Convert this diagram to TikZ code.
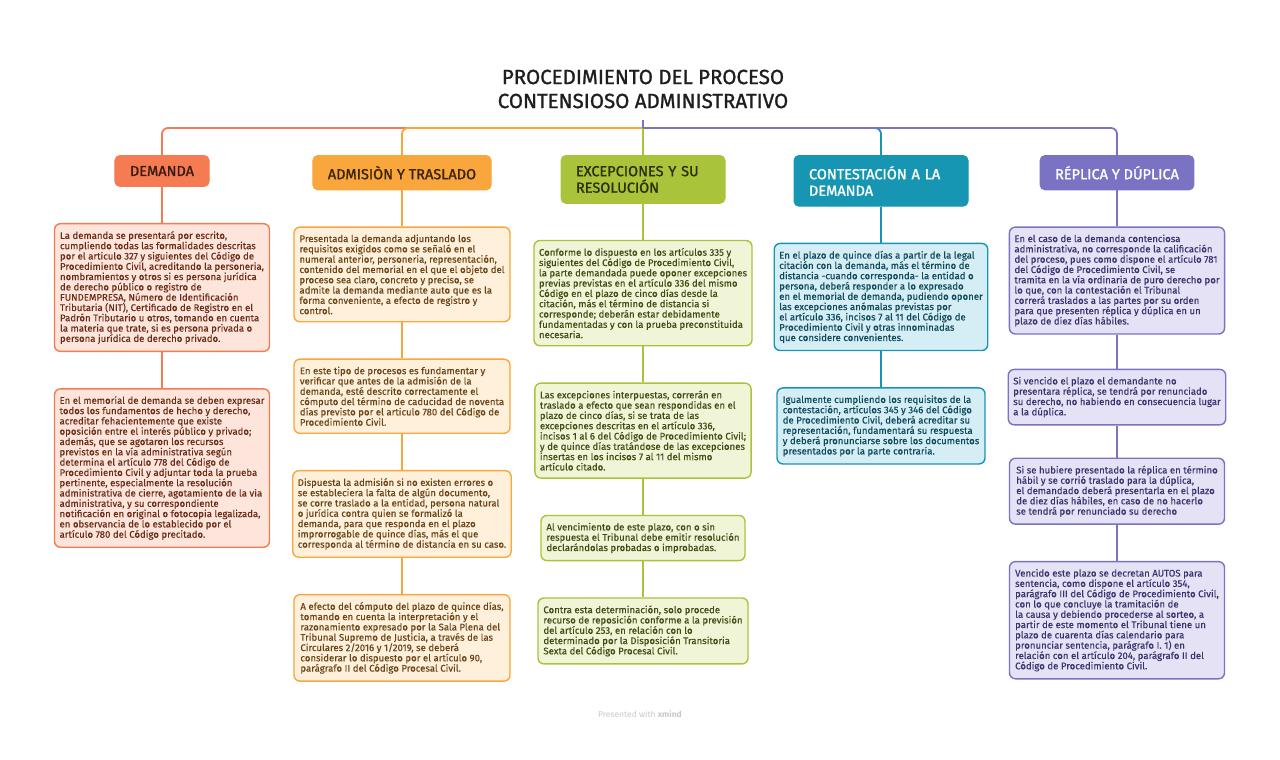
\documentclass[tikz,border=0pt]{standalone}
\usepackage{fontspec}
\setmainfont{Fira Sans}
\newfontfamily\headfont{Fira Sans}[FakeBold=1.2]
\newfontfamily\bodyfont{Fira Sans}[FakeBold=0.25]
\usetikzlibrary{positioning}

\definecolor{titlecol}{HTML}{1E1E1E}
\definecolor{demcol}{HTML}{F47B52}
\definecolor{demfill}{HTML}{FDE5DB}
\definecolor{demtxt}{HTML}{6A2C17}
\definecolor{demhead}{HTML}{3A1A0E}
\definecolor{admcol}{HTML}{F9A63C}
\definecolor{admfill}{HTML}{FEF0DA}
\definecolor{admtxt}{HTML}{6B4517}
\definecolor{admhead}{HTML}{3A2408}
\definecolor{exccol}{HTML}{A9C43A}
\definecolor{excfill}{HTML}{F1F5D8}
\definecolor{exctxt}{HTML}{414B12}
\definecolor{exchead}{HTML}{2A3008}
\definecolor{concol}{HTML}{1796B4}
\definecolor{confill}{HTML}{D5EDF4}
\definecolor{contxt}{HTML}{0D4A5B}
\definecolor{conhead}{HTML}{FFFFFF}
\definecolor{repcol}{HTML}{7A73C3}
\definecolor{repfill}{HTML}{E4E2F4}
\definecolor{reptxt}{HTML}{38336F}
\definecolor{rephead}{HTML}{FFFFFF}
\definecolor{footcol}{HTML}{C8C8C8}

\tikzset{
  head/.style={rounded corners=5pt, draw=#1col, fill=#1col, line width=1pt,
    inner xsep=15pt, inner ysep=10.5pt, align=left, anchor=north,
    font=\headfont\fontsize{14.5}{16.5}\selectfont, text=#1head},
  sub/.style={rounded corners=6pt, draw=#1col, fill=#1fill, line width=1.4pt,
    text=#1txt, inner xsep=5pt, inner ysep=7.5pt, align=left,
    font=\bodyfont\fontsize{9.6}{10.3}\selectfont},
  link/.style={draw=#1col, line width=1.8pt},
}

\begin{document}
\begin{tikzpicture}[x=1pt,y=-1pt]
  \useasboundingbox (0,0) rectangle (1280,760);
  \path (643,89) node[font=\headfont\fontsize{20.5}{24}\selectfont, align=center, inner ysep=11pt, text=titlecol] (title) {PROCEDIMIENTO DEL PROCESO\\CONTENSIOSO ADMINISTRATIVO};
  \coordinate (bar) at (643,128);

  % ramas principales
  \path (162,155) node[head=dem] (dem) {DEMANDA};
  \path (402,155) node[head=adm] (adm) {ADMISIÒN Y TRASLADO};
  \path (643,155) node[head=exc, text width=134pt] (exc) {EXCEPCIONES Y SU\\RESOLUCIÓN};
  \path (881,155) node[head=con, text width=144pt] (con) {CONTESTACIÓN A LA\\DEMANDA};
  \path (1117,155) node[head=rep] (rep) {RÉPLICA Y DÚPLICA};

  \begin{scope}[rounded corners=6pt]
    \draw[link=dem] (bar) -| (dem.north);
    \draw[link=adm] (bar) -| (adm.north);
    \draw[link=exc] (bar) -- (exc.north);
    \draw[link=con] (bar) -| (con.north);
    \draw[link=rep] (bar) -| (rep.north);
    \draw[link=rep] (title.south) -- (bar);
  \end{scope}

  % demanda
  \path node[sub=dem, minimum width=215pt, below=36pt of dem] (d1) {La demanda se presentará por escrito,\\cumpliendo todas las formalidades descritas\\por el articulo 327 y siguientes del Código de\\Procedimiento Civil, acreditando la personeria,\\nombramientos y otros si es persona jurídica\\de derecho público o registro de\\FUNDEMPRESA, Número de Identificación\\Tributaria (NIT), Certificado de Registro en el\\Padrón Tributario u otros, tomando en cuenta\\la materia que trate, si es persona privada o\\persona jurídica de derecho privado.};
  \path node[sub=dem, minimum width=215pt, below=36pt of d1] (d2) {En el memorial de demanda se deben expresar\\todos los fundamentos de hecho y derecho,\\acreditar fehacientemente que existe\\oposición entre el interés público y privado;\\además, que se agotaron los recursos\\previstos en la vía administrativa según\\determina el artículo 778 del Código de\\Procedimiento Civil y adjuntar toda la prueba\\pertinente, especialmente la resolución\\administrativa de cierre, agotamiento de la via\\administrativa, y su correspondiente\\notificación en original o fotocopia legalizada,\\en observancia de lo establecido por el\\artículo 780 del Código precitado.};
  \draw[link=dem] (dem.south) -- (d1.north) (d1.south) -- (d2.north);

  % admision
  \path node[sub=adm, minimum width=216pt, below=36pt of adm] (a1) {Presentada la demanda adjuntando los\\requisitos exigidos como se señaló en el\\numeral anterior, personeria, representación,\\contenido del memorial en el que el objeto del\\proceso sea claro, concreto y preciso, se\\admite la demanda mediante auto que es la\\forma conveniente, a efecto de registro y\\control.};
  \path node[sub=adm, minimum width=216pt, below=36pt of a1] (a2) {En este tipo de procesos es fundamentar y\\verificar que antes de la admisión de la\\demanda, esté descrito correctamente el\\cómputo del término de caducidad de noventa\\días previsto por el articulo 780 del Código de\\Procedimiento Civil.};
  \path node[sub=adm, minimum width=216pt, below=36pt of a2] (a3) {Dispuesta la admisión si no existen errores o\\se estableciera la falta de algún documento,\\se corre traslado a la entidad, persona natural\\o jurídica contra quien se formalizó la\\demanda, para que responda en el plazo\\improrrogable de quince días, más el que\\corresponda al término de distancia en su caso.};
  \path node[sub=adm, minimum width=216pt, below=36pt of a3] (a4) {A efecto del cómputo del plazo de quince días,\\tomando en cuenta la interpretación y el\\razonamiento expresado por la Sala Plena del\\Tribunal Supremo de Justicia, a través de las\\Circulares 2/2016 y 1/2019, se deberá\\considerar lo dispuesto por el artículo 90,\\parágrafo II del Código Procesal Civil.};
  \draw[link=adm] (adm.south) -- (a1.north) (a1.south) -- (a2.north)
    (a2.south) -- (a3.north) (a3.south) -- (a4.north);

  % excepciones
  \path node[sub=exc, minimum width=216pt, below=36pt of exc] (e1) {Conforme lo dispuesto en los artículos 335 y\\siguientes del Código de Procedimiento Civil,\\la parte demandada puede oponer excepciones\\previas previstas en el artículo 336 del mismo\\Código en el plazo de cinco días desde la\\citación, más el término de distancia si\\corresponde; deberán estar debidamente\\fundamentadas y con la prueba preconstituida\\necesaria.};
  \path node[sub=exc, minimum width=216pt, below=36pt of e1] (e2) {Las excepciones interpuestas, correrán en\\traslado a efecto que sean respondidas en el\\plazo de cinco días, si se trata de las\\excepciones descritas en el artículo 336,\\incisos 1 al 6 del Código de Procedimiento Civil;\\y de quince días tratándose de las excepciones\\insertas en los incisos 7 al 11 del mismo\\artículo citado.};
  \path node[sub=exc, minimum width=204pt, below=36pt of e2] (e3) {Al vencimiento de este plazo, con o sin\\respuesta el Tribunal debe emitir resolución\\declarándolas probadas o improbadas.};
  \path node[sub=exc, minimum width=210pt, below=36pt of e3] (e4) {Contra esta determinación, solo procede\\recurso de reposición conforme a la previsión\\del artículo 253, en relación con lo\\determinado por la Disposición Transitoria\\Sexta del Código Procesal Civil.};
  \draw[link=exc] (exc.south) -- (e1.north) (e1.south) -- (e2.north)
    (e2.south) -- (e3.north) (e3.south) -- (e4.north);

  % contestacion
  \path node[sub=con, minimum width=208pt, below=36pt of con] (c1) {En el plazo de quince días a partir de la legal\\citación con la demanda, más el término de\\distancia -cuando corresponda- la entidad o\\persona, deberá responder a lo expresado\\en el memorial de demanda, pudiendo oponer\\las excepciones anómalas previstas por\\el artículo 336, incisos 7 al 11 del Código de\\Procedimiento Civil y otras innominadas\\que considere convenientes.};
  \path node[sub=con, minimum width=208pt, below=36pt of c1] (c2) {Igualmente cumpliendo los requisitos de la\\contestación, artículos 345 y 346 del Código\\de Procedimiento Civil, deberá acreditar su\\representación, fundamentará su respuesta\\y deberá pronunciarse sobre los documentos\\presentados por la parte contraria.};
  \draw[link=con] (con.south) -- (c1.north) (c1.south) -- (c2.north);

  % replica
  \path node[sub=rep, minimum width=215pt, below=36pt of rep] (r1) {En el caso de la demanda contenciosa\\administrativa, no corresponde la calificación\\del proceso, pues como dispone el artículo 781\\del Código de Procedimiento Civil, se\\tramita en la vía ordinaria de puro derecho por\\lo que, con la contestación el Tribunal\\correrá traslados a las partes por su orden\\para que presenten réplica y dúplica en un\\plazo de diez días hábiles.};
  \path node[sub=rep, minimum width=215pt, below=34pt of r1] (r2) {Si vencido el plazo el demandante no\\presentara réplica, se tendrá por renunciado\\su derecho, no habiendo en consecuencia lugar\\a la dúplica.};
  \path node[sub=rep, minimum width=215pt, below=32pt of r2] (r3) {Si se hubiere presentado la réplica en término\\hábil y se corrió traslado para la dúplica,\\el demandado deberá presentarla en el plazo\\de diez días hábiles, en caso de no hacerlo\\se tendrá por renunciado su derecho};
  \path node[sub=rep, minimum width=215pt, below=36pt of r3] (r4) {Vencido este plazo se decretan AUTOS para\\sentencia, como dispone el artículo 354,\\parágrafo III del Código de Procedimiento Civil,\\con lo que concluye la tramitación de\\la causa y debiendo procederse al sorteo, a\\partir de este momento el Tribunal tiene un\\plazo de cuarenta días calendario para\\pronunciar sentencia, parágrafo I. 1) en\\relación con el artículo 204, parágrafo II del\\Código de Procedimiento Civil.};
  \draw[link=rep] (rep.south) -- (r1.north) (r1.south) -- (r2.north)
    (r2.south) -- (r3.north) (r3.south) -- (r4.north);

  \path (640,714) node[font=\fontsize{8.5}{10}\selectfont, text=footcol] (foot) {Presented with \textbf{xmind}};
\end{tikzpicture}
\end{document}
